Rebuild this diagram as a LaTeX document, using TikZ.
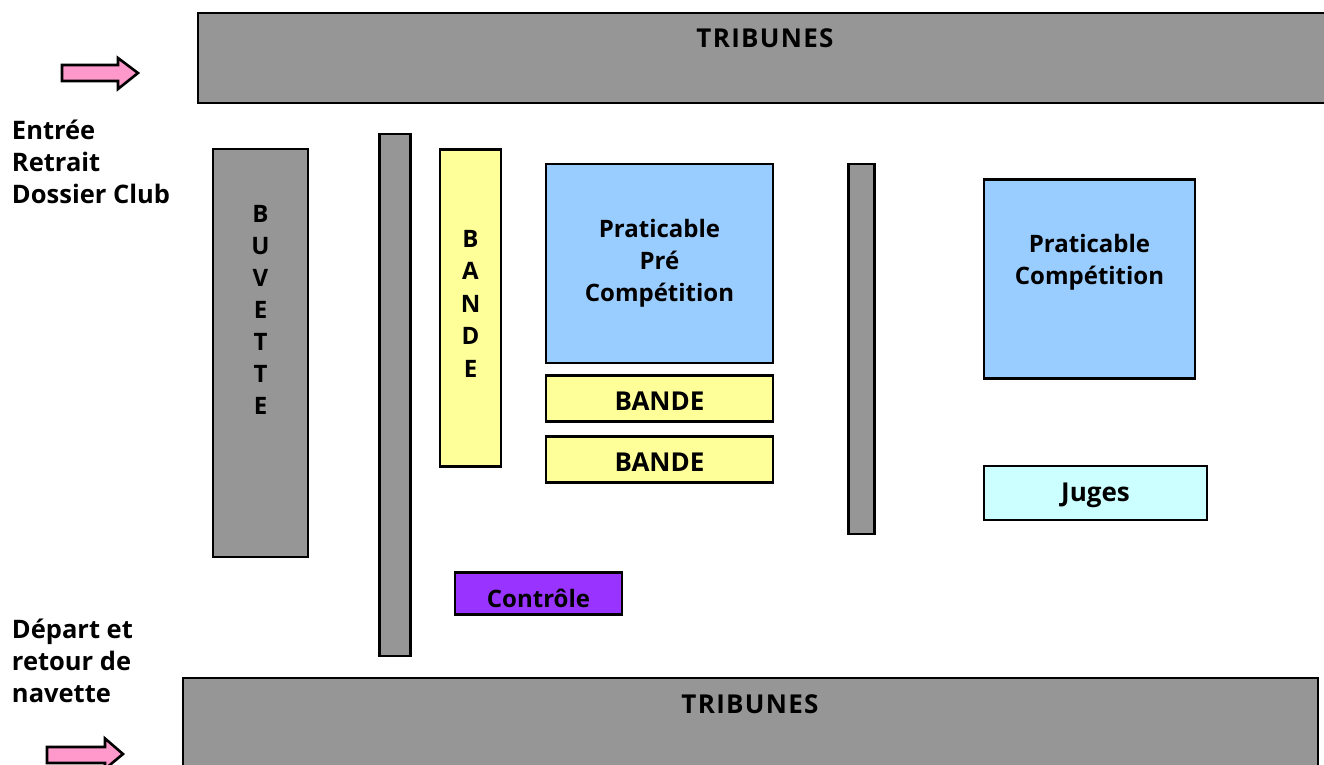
\documentclass[tikz,border=0pt]{standalone}
\usepackage{fontspec}
\setmainfont{Open Sans}
\definecolor{grayfill}{HTML}{969696}
\definecolor{bluefill}{HTML}{99CCFF}
\definecolor{yellowfill}{HTML}{FFFF99}
\definecolor{cyanfill}{HTML}{CCFFFF}
\definecolor{purplefill}{HTML}{9933FF}
\definecolor{pinkfill}{HTML}{FF99CC}
\tikzset{
  x=1pt,y=-1pt,
  every node/.style={font=\bfseries\fontsize{24}{32}\selectfont,text=black,inner sep=0pt,outer sep=0pt},
  box/.style={draw=black,line width=2.2pt,line join=miter,align=center},
  lbl/.style={align=left,anchor=north west,font=\bfseries\fontsize{25.5}{32}\selectfont},
  bigtxt/.style={font=\bfseries\fontsize{26}{32}\selectfont},
  tribtxt/.style={font=\bfseries\fontsize{26}{32}\selectfont\addfontfeature{LetterSpace=5}},
  pinkarrow/.style={draw=black,line width=2.6pt,fill=pinkfill,line join=miter},
}
\begin{document}
\begin{tikzpicture}
\useasboundingbox (0,0) rectangle (1324,764);
\clip (0,0) rectangle (1324,764);
% Tribunes
\node[box,fill=grayfill,minimum width=1140pt,minimum height=90pt,anchor=north west] (tribhaut) at (198,13) {};
\node[anchor=center,tribtxt] (tribhauttxt) at (765,38) {TRIBUNES};
\node[box,fill=grayfill,minimum width=1135pt,minimum height=100pt,anchor=north west] (tribbas) at (183,678) {};
\node[anchor=center,tribtxt] (tribbastxt) at (750,704) {TRIBUNES};
% Buvette
\node[box,fill=grayfill,minimum width=95pt,minimum height=408pt,anchor=north west] (buvette) at (213,149) {};
\node[align=center,anchor=north] (buvettetxt) at (260.5,205) {B\\U\\V\\E\\T\\T\\E};
% Barriers
\node[box,fill=grayfill,minimum width=31pt,minimum height=522pt,anchor=north west] (barriere1) at (379.5,134) {};
\node[box,fill=grayfill,minimum width=26pt,minimum height=370pt,anchor=north west] (barriere2) at (848.5,164) {};
% Bandes
\node[box,fill=yellowfill,minimum width=61pt,minimum height=317pt,anchor=north west] (bande1) at (440,149.5) {};
\node[align=center,anchor=north] (bande1txt) at (470.5,230) {B\\[0.5pt]A\\[0.5pt]N\\[0.5pt]D\\[0.5pt]E};
\node[box,fill=yellowfill,minimum width=227pt,minimum height=46pt,anchor=north west] (bande2) at (546,375.5) {};
\node[bigtxt] (bande2txt) at (659.5,401) {BANDE};
\node[box,fill=yellowfill,minimum width=227pt,minimum height=46pt,anchor=north west] (bande3) at (546,436.5) {};
\node[bigtxt] (bande3txt) at (659.5,462) {BANDE};
% Praticables
\node[box,fill=bluefill,minimum width=227pt,minimum height=199pt,anchor=north west] (pratpre) at (546,164) {};
\node[align=center,anchor=north] (pratpretxt) at (659.5,219) {Praticable\\Pré\\Compétition};
\node[box,fill=bluefill,minimum width=211pt,minimum height=199pt,anchor=north west] (pratcomp) at (984,179.5) {};
\node[align=center,anchor=north] (pratcomptxt) at (1089.5,234) {Praticable\\Compétition};
% Juges, Controle
\node[box,fill=cyanfill,minimum width=223pt,minimum height=54pt,anchor=north west] (juges) at (984,466) {};
\node[bigtxt] (jugestxt) at (1095.5,495) {Juges};
\node[box,fill=purplefill,minimum width=167pt,minimum height=42pt,anchor=north west] (controle) at (455,572.5) {};
\node (controletxt) at (538.5,598) {Contrôle};
% Left labels
\node[lbl] (entree) at (12,120) {Entrée\\Retrait\\Dossier Club};
\node[lbl] (depart) at (12,619) {Départ et\\retour de\\navette};
% Arrows
\draw[pinkarrow] (62,65) -- (118,65) -- (118,58) -- (138,73) -- (118,89) -- (118,81) -- (62,81) -- cycle;
\draw[pinkarrow] (47,747) -- (105,747) -- (105,738.5) -- (123,754) -- (105,769) -- (105,763) -- (47,763) -- cycle;
\end{tikzpicture}
\end{document}
